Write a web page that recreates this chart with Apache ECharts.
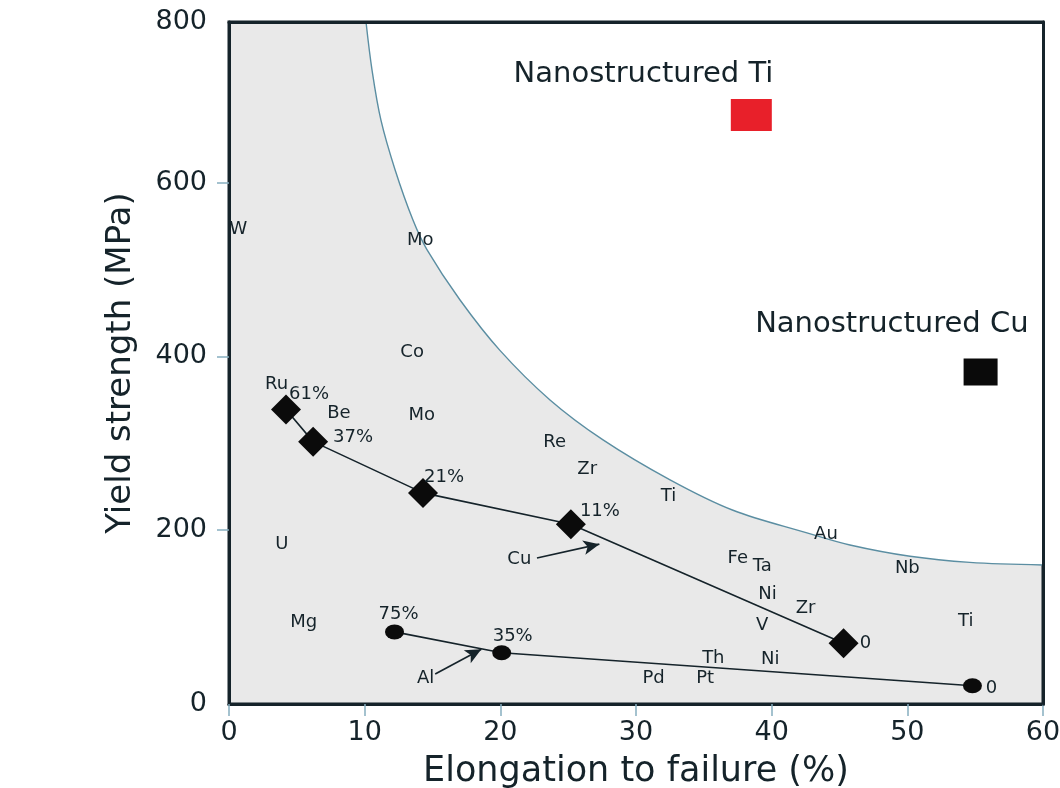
<!DOCTYPE html>
<html>
<head>
<meta charset="utf-8">
<script src="https://cdn.jsdelivr.net/npm/echarts@6/dist/echarts.min.js"></script>
<style>
  html, body { margin: 0; padding: 0; background: #ffffff; }
  #chart { width: 1060px; height: 788px; }
</style>
</head>
<body>
<div id="chart"></div>
<script>
// Yield strength vs. elongation to failure for pure metals,
// cold-rolled Cu / Al series and nanostructured Cu / Ti.

// Axis ranges (elongation %, yield strength MPa)
const xMin = 0, xMax = 60, xStep = 10;
const yMin = 0, yMax = 785, yStep = 200;
const yTopLabel = '800';
// Tick marks drawn on the yield-strength axis
const yTickMarks = [200, 400, 600];

// Boundary of the conventional-metal envelope
const envelopeElong = [10.10, 10.54, 11.20, 12.24, 13.56, 14.59, 17.03, 19.97, 23.66, 27.57, 32.51, 37.15, 42.60, 45.77, 50.2, 54.6, 60.0];
const envelopeYield = [785, 730, 672, 615, 557, 523, 465, 407, 350, 304, 258, 223, 197, 183, 170, 163, 160];

// Cu, cold-rolled to various reductions
const cuElong = [4.2, 6.2, 14.3, 25.2, 45.3];
const cuYield = [339, 302, 243, 207, 70];
const cuTags = ['61%', '37%', '21%', '11%', '0'];

// Al, cold-rolled to various reductions
const alElong = [12.2, 20.1, 54.8];
const alYield = [83, 59, 21];
const alTags = ['75%', '35%', '0'];

// Pure metals
const metalNames = ['W', 'Mo', 'Co', 'Mo', 'Ru', 'Be', 'Re', 'Zr', 'Ti', 'U', 'Au', 'Fe', 'Ta', 'Nb', 'Ni', 'Zr', 'V', 'Ti', 'Mg', 'Th', 'Ni', 'Pd', 'Pt'];
const metalElong = [0.7, 14.1, 13.5, 14.2, 3.5, 8.1, 24.0, 26.4, 32.4, 3.9, 44.0, 37.5, 39.3, 50.0, 39.7, 42.5, 39.3, 54.3, 5.5, 35.7, 39.9, 31.3, 35.1];
const metalYield = [546, 534, 405, 332, 368, 335, 301, 270, 239, 184, 195, 168, 159, 156, 126, 110, 90, 95, 94, 52, 51, 30, 30];

// Nanostructured materials
const nanoNames = ['Nanostructured Ti', 'Nanostructured Cu'];
const nanoElong = [38.5, 55.4];
const nanoYield = [678, 382];

// Series call-outs with arrows
const arrowNames = ['Cu', 'Al'];
const arrowFrom = [[22.7, 168], [15.2, 34.5]];
const arrowTo = [[27.3, 184], [18.6, 63]];
const arrowNameAt = [[21.4, 166], [14.5, 29]];

// Label offsets (px) for the percentage tags
const cuTagOffsets = [[23, -15], [40, -4], [21, -16], [29, -13], [22, 0]];
const alTagOffsets = [[4, -18], [11, -16], [19, 3]];

const ink = '#15232a';
const font = 'DejaVu Sans';

const chart = echarts.init(document.getElementById('chart'), null, { renderer: 'canvas' });

const zip = (xs, ys) => xs.map((x, i) => [x, ys[i]]);

const axisCommon = {
  type: 'value',
  splitLine: { show: false },
  axisLine: { show: true, onZero: false, lineStyle: { color: ink, width: 3 } },
  axisTick: { show: true, inside: false, length: 12, lineStyle: { color: '#86aec0', width: 1.5 } },
  axisLabel: { color: ink, fontFamily: font, fontSize: 27 }
};

const frameAxis = {
  type: 'value', z: 10,
  axisLine: { show: true, onZero: false, lineStyle: { color: ink, width: 3 } },
  axisTick: { show: false }, axisLabel: { show: false }, splitLine: { show: false }
};

const textLabel = { show: true, position: 'inside', color: ink, fontFamily: font, fontSize: 18, opacity: 1 };

const option = {
  animation: false,
  backgroundColor: '#ffffff',
  grid: {
    left: 229, right: 17, top: 22, bottom: 84,
    outerBoundsMode: 'none',
    containLabel: false,
    show: true, backgroundColor: '#e9e9e9',
    borderColor: ink, borderWidth: 3
  },
  xAxis: [
    Object.assign({}, axisCommon, {
      min: xMin, max: xMax, interval: xStep,
      name: 'Elongation to failure (%)',
      nameLocation: 'middle', nameGap: 50,
      nameTextStyle: { color: ink, fontFamily: font, fontSize: 35 },
      axisLabel: Object.assign({}, axisCommon.axisLabel, { margin: 15 })
    }),
    Object.assign({}, frameAxis, { position: 'top', min: xMin, max: xMax })
  ],
  yAxis: [
    Object.assign({}, axisCommon, {
      min: yMin, max: yMax, interval: yStep,
      name: 'Yield strength (MPa)',
      nameLocation: 'middle', nameGap: 91,
      nameTextStyle: { color: ink, fontFamily: font, fontSize: 34 },
      axisTick: Object.assign({}, axisCommon.axisTick, { customValues: yTickMarks }),
      axisLabel: Object.assign({}, axisCommon.axisLabel, {
        margin: 22,
        formatter: v => (v >= yMax ? yTopLabel : String(v))
      })
    }),
    Object.assign({}, frameAxis, { position: 'right', min: yMin, max: yMax })
  ],
  series: [
    {
      // envelope: white above the boundary, grey below
      name: 'envelope',
      type: 'line',
      data: zip(envelopeElong, envelopeYield),
      smooth: 0.35,
      symbol: 'none',
      lineStyle: { color: '#5b8ea2', width: 1.4 },
      areaStyle: { origin: 'end', color: '#ffffff', opacity: 1 },
      z: 1,
      silent: true
    },
    {
      name: 'metals',
      type: 'scatter',
      data: zip(metalElong, metalYield),
      symbolSize: 1,
      itemStyle: { color: 'rgba(0,0,0,0)', opacity: 1 },
      label: Object.assign({}, textLabel, { formatter: p => metalNames[p.dataIndex] }),
      z: 3
    },
    {
      name: 'Cu',
      type: 'line',
      data: zip(cuElong, cuYield),
      symbol: 'diamond',
      symbolSize: 30,
      itemStyle: { color: '#0b0b0b', opacity: 1 },
      lineStyle: { color: ink, width: 1.6 },
      label: Object.assign({}, textLabel, { formatter: p => cuTags[p.dataIndex] }),
      labelLayout: p => ({ dx: cuTagOffsets[p.dataIndex][0], dy: cuTagOffsets[p.dataIndex][1] }),
      markLine: {
        silent: true, animation: false,
        symbol: ['none', 'arrow'], symbolSize: [11, 16],
        lineStyle: { color: ink, width: 1.6, type: 'solid' },
        label: { show: false },
        data: [[{ coord: arrowFrom[0] }, { coord: arrowTo[0] }]]
      },
      z: 4
    },
    {
      name: 'Al',
      type: 'line',
      data: zip(alElong, alYield),
      symbol: 'circle',
      symbolSize: [19, 15],
      itemStyle: { color: '#0b0b0b', opacity: 1 },
      lineStyle: { color: ink, width: 1.6 },
      label: Object.assign({}, textLabel, { formatter: p => alTags[p.dataIndex] }),
      labelLayout: p => ({ dx: alTagOffsets[p.dataIndex][0], dy: alTagOffsets[p.dataIndex][1] }),
      markLine: {
        silent: true, animation: false,
        symbol: ['none', 'arrow'], symbolSize: [11, 16],
        lineStyle: { color: ink, width: 1.6, type: 'solid' },
        label: { show: false },
        data: [[{ coord: arrowFrom[1] }, { coord: arrowTo[1] }]]
      },
      z: 4
    },
    {
      name: 'callouts',
      type: 'scatter',
      data: arrowNameAt,
      symbolSize: 1,
      itemStyle: { color: 'rgba(0,0,0,0)', opacity: 1 },
      label: Object.assign({}, textLabel, { formatter: p => arrowNames[p.dataIndex] }),
      z: 3
    },
    {
      name: 'nano',
      type: 'scatter',
      data: [
        { value: [nanoElong[0], nanoYield[0]], symbolSize: [41, 32], itemStyle: { color: '#e8202a', opacity: 1 },
          label: { offset: [22, -40] } },
        { value: [nanoElong[1], nanoYield[1]], symbolSize: [34, 27], itemStyle: { color: '#0a0a0a', opacity: 1 },
          label: { offset: [48, -48] } }
      ],
      symbol: 'rect',
      itemStyle: { opacity: 1 },
      label: {
        show: true, position: 'inside', align: 'right', verticalAlign: 'middle', opacity: 1,
        formatter: p => nanoNames[p.dataIndex],
        color: ink, fontFamily: font, fontSize: 29
      },
      z: 4
    }
  ]
};

chart.setOption(option);
</script>
</body>
</html>
